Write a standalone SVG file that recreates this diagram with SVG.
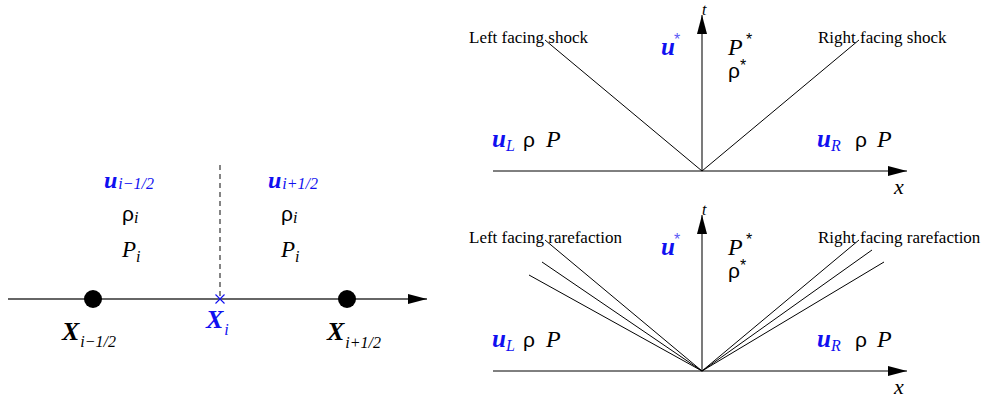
<svg xmlns="http://www.w3.org/2000/svg" width="988" height="400" viewBox="0 0 988 400">
<style>
.ax{stroke:#333;stroke-width:1.3;fill:none}
.ln{stroke:#000;stroke-width:1;fill:none}
.lbl{font-family:"Liberation Serif",serif;font-size:17px;fill:#000}
.it{font-family:"Liberation Serif",serif;font-style:italic;fill:#000}
.bi{font-family:"Liberation Serif",serif;font-style:italic;font-weight:bold}
.sans{font-family:"Liberation Sans",sans-serif;fill:#000}
.blue{fill:#1010f0}
.star{fill:#5a5af5}
.sub{font-size:16px}
</style>
<defs>
<marker id="arr" markerWidth="20" markerHeight="10" refX="19" refY="5" orient="auto" markerUnits="userSpaceOnUse">
<path d="M0,0 L19,5 L0,10 Z" fill="#000"/>
</marker>
</defs>
<rect width="988" height="400" fill="#fff"/>

<g id="connectors">
<line class="ax" x1="8" y1="299" x2="427" y2="299" marker-end="url(#arr)"/>
<line x1="220" y1="165" x2="220" y2="296" stroke="#333" stroke-width="1.2" stroke-dasharray="5,4"/>
<line class="ln" x1="493" y1="171" x2="907" y2="171" marker-end="url(#arr)"/>
<line class="ax" x1="702" y1="171" x2="702" y2="15" marker-end="url(#arr)"/>
<line class="ln" x1="702" y1="171" x2="545" y2="40"/>
<line class="ln" x1="702" y1="171" x2="859" y2="40"/>
<line class="ln" x1="493" y1="371" x2="907" y2="371" marker-end="url(#arr)"/>
<line class="ax" x1="702" y1="371" x2="702" y2="215" marker-end="url(#arr)"/>
<line class="ln" x1="702" y1="371" x2="545" y2="240"/>
<line class="ln" x1="702" y1="371" x2="542" y2="262"/>
<line class="ln" x1="702" y1="371" x2="529" y2="275"/>
<line class="ln" x1="702" y1="371" x2="859" y2="240"/>
<line class="ln" x1="702" y1="371" x2="872" y2="250"/>
<line class="ln" x1="702" y1="371" x2="884" y2="262"/>
</g>

<g id="node-left-point">
<circle cx="93" cy="299" r="9" fill="#000"/>
<text class="bi" x="62" y="340" font-size="26" fill="#000">X<tspan class="sub" font-weight="normal" dx="1" dy="7">i−1/2</tspan></text>
</g>
<g id="node-center">
<path d="M215.5,294.5 L224.5,303.5 M224.5,294.5 L215.5,303.5" stroke="#1010f0" stroke-width="1.1"/>
<text class="bi blue" x="206" y="328" font-size="26">X<tspan class="sub" font-weight="normal" dx="1" dy="7">i</tspan></text>
</g>
<g id="node-right-point">
<circle cx="347" cy="299" r="9" fill="#000"/>
<text class="bi" x="327" y="340" font-size="26" fill="#000">X<tspan class="sub" font-weight="normal" dx="1" dy="8">i+1/2</tspan></text>
</g>
<g id="node-left-cell">
<text class="bi blue" x="104" y="188" font-size="24">u<tspan class="sub" font-weight="normal" dx="1" dy="1">i−1/2</tspan></text>
<text class="sans" x="122" y="221" font-size="21">ρ<tspan class="it" font-size="16" dy="2">i</tspan></text>
<text class="it" x="122" y="257" font-size="23">P<tspan font-size="16" dy="5">i</tspan></text>
</g>
<g id="node-right-cell">
<text class="bi blue" x="268" y="188" font-size="24">u<tspan class="sub" font-weight="normal" dx="1" dy="1">i+1/2</tspan></text>
<text class="sans" x="281" y="221" font-size="21">ρ<tspan class="it" font-size="16" dy="2">i</tspan></text>
<text class="it" x="281" y="257" font-size="23">P<tspan font-size="16" dy="5">i</tspan></text>
</g>

<g id="node-shock">
<text class="it" x="702" y="15" font-size="16">t</text>
<text class="it" x="894" y="194" font-size="22">x</text>
<text class="lbl" x="469" y="43">Left facing shock</text>
<text class="lbl" x="818" y="43">Right facing shock</text>
<text class="bi blue" x="661" y="55" font-size="25">u</text>
<text class="sans star" x="674" y="45" font-size="16">*</text>
<text class="it" x="728" y="55" font-size="24">P</text>
<text class="sans" x="746" y="45" font-size="16">*</text>
<text class="sans" x="728" y="78" font-size="21">ρ</text>
<text class="sans" x="740" y="71" font-size="16">*</text>
<text class="bi blue" x="492" y="147" font-size="25">u<tspan class="sub" font-style="italic" font-weight="normal" dy="4">L</tspan></text>
<text class="sans" x="523" y="147" font-size="21">ρ</text>
<text class="it" x="546" y="147" font-size="24">P</text>
<text class="bi blue" x="817" y="147" font-size="25">u<tspan class="sub" font-style="italic" font-weight="normal" dy="4">R</tspan></text>
<text class="sans" x="855" y="147" font-size="21">ρ</text>
<text class="it" x="877" y="147" font-size="24">P</text>
</g>

<g id="node-rarefaction">
<text class="it" x="702" y="215" font-size="16">t</text>
<text class="it" x="894" y="394" font-size="22">x</text>
<text class="lbl" x="469" y="243">Left facing rarefaction</text>
<text class="lbl" x="818" y="243">Right facing rarefaction</text>
<text class="bi blue" x="661" y="255" font-size="25">u</text>
<text class="sans star" x="674" y="245" font-size="16">*</text>
<text class="it" x="728" y="255" font-size="24">P</text>
<text class="sans" x="746" y="245" font-size="16">*</text>
<text class="sans" x="728" y="278" font-size="21">ρ</text>
<text class="sans" x="740" y="271" font-size="16">*</text>
<text class="bi blue" x="492" y="347" font-size="25">u<tspan class="sub" font-style="italic" font-weight="normal" dy="4">L</tspan></text>
<text class="sans" x="523" y="347" font-size="21">ρ</text>
<text class="it" x="546" y="347" font-size="24">P</text>
<text class="bi blue" x="817" y="347" font-size="25">u<tspan class="sub" font-style="italic" font-weight="normal" dy="4">R</tspan></text>
<text class="sans" x="855" y="347" font-size="21">ρ</text>
<text class="it" x="877" y="347" font-size="24">P</text>
</g>
</svg>
